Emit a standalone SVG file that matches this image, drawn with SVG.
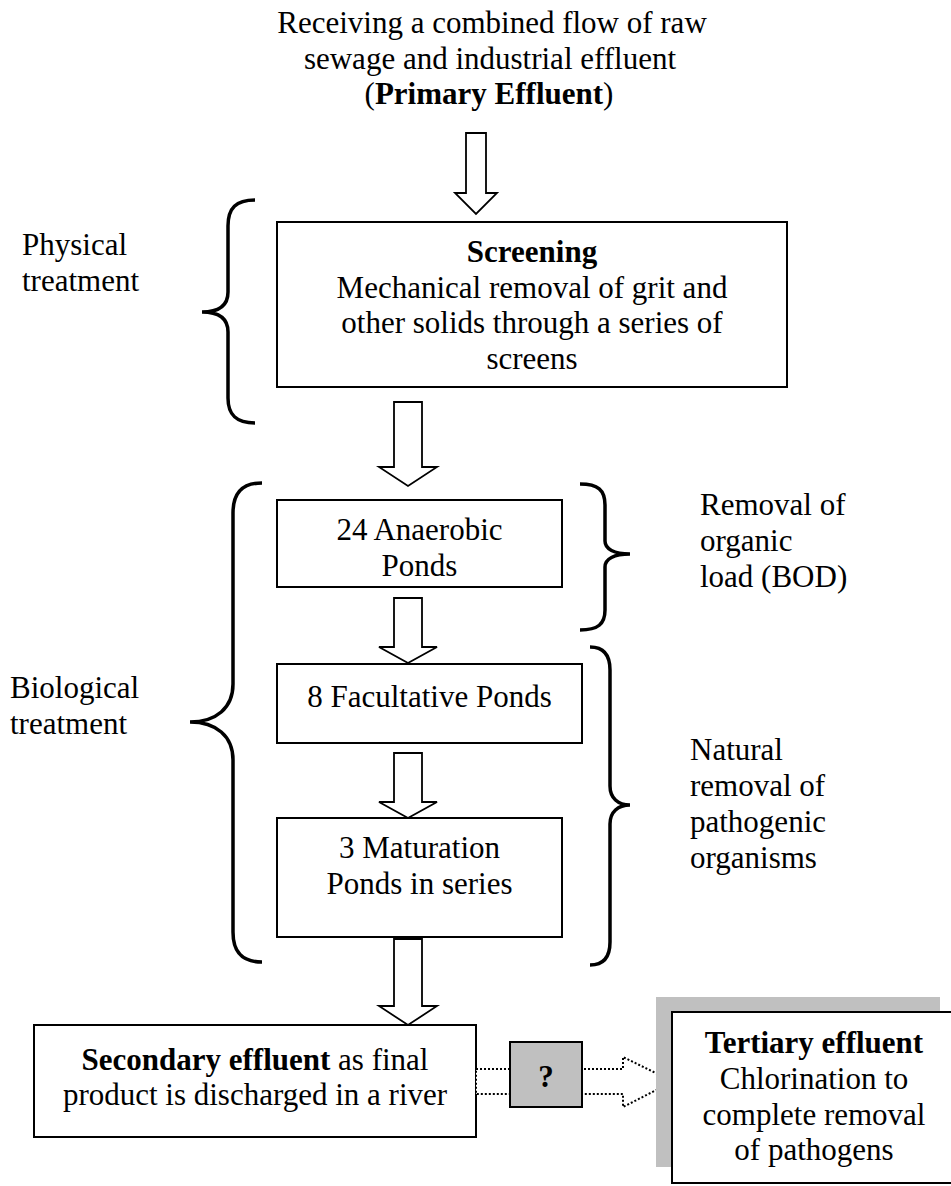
<svg xmlns="http://www.w3.org/2000/svg" width="951" height="1186" viewBox="0 0 951 1186">
  <style>
    text { font-family: "Liberation Serif", "Times New Roman", serif; font-size: 31px; fill: #000; }
    .c { text-anchor: middle; }
    .b { font-weight: bold; }
    .box { fill: #fff; stroke: #000; stroke-width: 2; }
    .arrow { fill: #fff; stroke: #000; stroke-width: 1.8; stroke-linejoin: miter; }
    .brace { fill: none; stroke: #000; stroke-width: 3.5; stroke-linecap: butt; }
    .dotted { fill: #fff; stroke: #000; stroke-width: 2; stroke-dasharray: 2 2; }
  </style>
  <rect width="951" height="1186" fill="#fff"/>

  <!-- Intake label -->
  <g id="intake">
    <text class="c" x="492" y="33">Receiving a combined flow of raw</text>
    <text class="c" x="490" y="68.5">sewage and industrial effluent</text>
    <text class="c" x="489" y="104">(<tspan class="b">Primary Effluent</tspan>)</text>
  </g>

  <!-- Side labels with braces -->
  <g id="physical-label">
    <path class="brace" d="M255,200 C236,200 228,208 228,226 L228,292 C228,306 219,312 202,312 C219,312 228,318 228,332 L228,398 C228,415 236,423 255,423"/>
    <text x="22" y="255">Physical</text>
    <text x="22" y="291">treatment</text>
  </g>
  <g id="biological-label">
    <path class="brace" d="M262,483 C242,483 233,493 233,513 L233,684 C233,708 216,722 190,722 C216,722 233,736 233,760 L233,932 C233,952 242,962 262,962"/>
    <text x="10" y="698">Biological</text>
    <text x="10" y="734">treatment</text>
  </g>
  <g id="bod-label">
    <path class="brace" d="M580,484 C598,484 605,490 605,505 L605,541 C605,549 614,554 630,554 C614,554 605,559 605,567 L605,610 C605,624 598,630 580,630"/>
    <text x="700" y="515">Removal of</text>
    <text x="700" y="551">organic</text>
    <text x="700" y="587">load (BOD)</text>
  </g>
  <g id="pathogen-label">
    <path class="brace" d="M590,647 C604,647 610,655 610,670 L610,786 C610,798 618,805 630,805 C618,805 610,812 610,824 L610,942 C610,957 604,965 590,965"/>
    <text x="690" y="760">Natural</text>
    <text x="690" y="796">removal of</text>
    <text x="690" y="832">pathogenic</text>
    <text x="690" y="868">organisms</text>
  </g>

  <!-- Process boxes -->
  <g id="screening">
    <rect class="box" x="277" y="222" width="510" height="165"/>
    <text class="c b" x="532" y="262">Screening</text>
    <text class="c" x="532" y="298">Mechanical removal of grit and</text>
    <text class="c" x="532" y="333">other solids through a series of</text>
    <text class="c" x="532" y="369">screens</text>
  </g>
  <g id="anaerobic">
    <rect class="box" x="277" y="500" width="285" height="87"/>
    <text class="c" x="419.5" y="540">24 Anaerobic</text>
    <text class="c" x="419.5" y="576">Ponds</text>
  </g>
  <g id="facultative">
    <rect class="box" x="277" y="664" width="305" height="79"/>
    <text class="c" x="429.5" y="707">8 Facultative Ponds</text>
  </g>
  <g id="maturation">
    <rect class="box" x="277" y="818" width="285" height="119"/>
    <text class="c" x="419.5" y="858">3 Maturation</text>
    <text class="c" x="419.5" y="894">Ponds in series</text>
  </g>
  <g id="secondary">
    <rect class="box" x="34" y="1025" width="442" height="112"/>
    <text class="c" x="255" y="1070"><tspan class="b">Secondary effluent</tspan> as final</text>
    <text class="c" x="255" y="1105">product is discharged in a river</text>
  </g>

  <!-- Flow connectors -->
  <g id="connectors">
    <polygon class="arrow" points="466,133 486,133 486,193 497,193 476,214 455,193 466,193"/>
    <polygon class="arrow" points="394,402 422,402 422,467 437,467 408,486 379,467 394,467"/>
    <polygon class="arrow" points="394,598 422,598 422,647 437,647 408,663 379,647 394,647"/>
    <polygon class="arrow" points="394,753 422,753 422,802 437,802 408,818 379,802 394,802"/>
    <polygon class="arrow" points="394,939 422,939 422,1006 437,1006 408,1025 379,1006 394,1006"/>
    <polygon class="dotted" points="476,1069 623,1069 623,1057 673,1081.5 623,1107 623,1094 476,1094"/>
  </g>

  <g id="unknown-step">
    <rect x="510" y="1042" width="72" height="65" fill="#c0c0c0" stroke="#000" stroke-width="2"/>
    <text class="c b" x="546" y="1087">?</text>
  </g>

  <g id="tertiary">
    <rect x="656" y="997" width="284" height="170" fill="#c0c0c0"/>
    <rect class="box" x="672" y="1012" width="290" height="171"/>
    <text class="c b" x="814" y="1053">Tertiary effluent</text>
    <text class="c" x="814" y="1089">Chlorination to</text>
    <text class="c" x="814" y="1125">complete removal</text>
    <text class="c" x="814" y="1160">of pathogens</text>
  </g>
</svg>
